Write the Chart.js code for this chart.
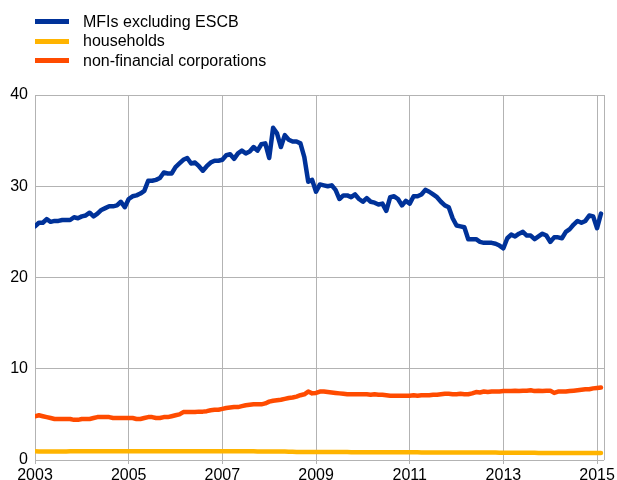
<!DOCTYPE html>
<html>
<head>
<meta charset="utf-8">
<title>Debt securities holdings</title>
<script src="https://cdn.jsdelivr.net/npm/chart.js@4"></script>
<style>
  body { margin: 0; background: #fff; font-family: "Liberation Sans", Arial, sans-serif; }
  #wrap { position: relative; width: 617px; height: 480px; }
  #chart { position: absolute; left: 0; top: 0; }
  #legend { position: absolute; left: 35px; top: 12px; font-size: 16px; color: #000; }
  .item { height: 19.5px; display: flex; align-items: center; white-space: nowrap; }
  .swatch { width: 34px; height: 5px; margin-right: 14px; }
</style>
</head>
<body>
<div id="wrap">
  <canvas id="chart" width="617" height="480"></canvas>
  <div id="legend"></div>
</div>
<script>
  // monthly, Jan 2003 - Feb 2015
  const startYear = 2003;
  const seriesNames = ['MFIs excluding ESCB', 'households', 'non-financial corporations'];
  const seriesColors = ['#003299', '#ffb400', '#ff4b00'];
  const yearLabels = ['2003', '2005', '2007', '2009', '2011', '2013', '2015'];

  const mfi = [
    25.6, 26.0, 26.0, 26.4, 26.1, 26.2, 26.2, 26.3, 26.3, 26.3, 26.6, 26.5,
    26.7, 26.8, 27.1, 26.7, 27.0, 27.4, 27.6, 27.8, 27.8, 27.9, 28.3, 27.7,
    28.6, 28.9, 29.0, 29.2, 29.5, 30.6, 30.6, 30.7, 30.9, 31.5, 31.4, 31.4,
    32.1, 32.5, 32.9, 33.1, 32.5, 32.6, 32.2, 31.7, 32.2, 32.6, 32.8, 32.8,
    32.9, 33.4, 33.5, 33.0, 33.6, 33.9, 33.6, 33.8, 34.3, 33.9, 34.6, 34.7,
    33.1, 36.4, 35.8, 34.3, 35.6, 35.1, 34.9, 34.9, 34.7, 33.2, 30.5, 30.7,
    29.4, 30.2, 30.1, 30.0, 30.1, 29.6, 28.6, 29.0, 29.0, 28.8, 29.1, 28.6,
    28.3, 28.7, 28.3, 28.2, 28.0, 28.1, 27.3, 28.8, 28.9, 28.6, 27.9, 28.4,
    28.1, 28.9, 28.9, 29.1, 29.6, 29.4, 29.1, 28.8, 28.3, 27.9, 27.7, 26.5,
    25.7, 25.6, 25.5, 24.2, 24.2, 24.2, 23.9, 23.8, 23.8, 23.8, 23.7, 23.5,
    23.2, 24.3, 24.7, 24.5, 24.8, 25.0, 24.6, 24.6, 24.2, 24.5, 24.8, 24.6,
    23.9, 24.4, 24.4, 24.3, 25.0, 25.3, 25.8, 26.2, 26.0, 26.2, 26.8, 26.7,
    25.4, 27.0
  ];

  const households = [
    0.95, 0.94, 0.94, 0.93, 0.93, 0.93, 0.94, 0.94, 0.94, 0.95, 0.95, 0.95,
    0.95, 0.95, 0.96, 0.96, 0.96, 0.96, 0.96, 0.96, 0.96, 0.96, 0.96, 0.96,
    0.96, 0.96, 0.96, 0.96, 0.96, 0.96, 0.96, 0.96, 0.96, 0.96, 0.96, 0.96,
    0.96, 0.96, 0.96, 0.96, 0.96, 0.96, 0.96, 0.96, 0.96, 0.96, 0.96, 0.96,
    0.96, 0.96, 0.95, 0.95, 0.95, 0.95, 0.95, 0.95, 0.95, 0.94, 0.94, 0.94,
    0.94, 0.94, 0.93, 0.93, 0.92, 0.91, 0.90, 0.89, 0.88, 0.88, 0.88, 0.88,
    0.88, 0.88, 0.88, 0.87, 0.87, 0.87, 0.87, 0.87, 0.87, 0.86, 0.86, 0.86,
    0.86, 0.86, 0.86, 0.86, 0.85, 0.85, 0.85, 0.85, 0.85, 0.84, 0.84, 0.84,
    0.84, 0.84, 0.84, 0.83, 0.83, 0.83, 0.83, 0.83, 0.83, 0.83, 0.83, 0.83,
    0.82, 0.82, 0.82, 0.82, 0.82, 0.82, 0.81, 0.81, 0.81, 0.81, 0.81, 0.80,
    0.80, 0.80, 0.80, 0.80, 0.79, 0.79, 0.79, 0.79, 0.79, 0.78, 0.78, 0.78,
    0.78, 0.78, 0.77, 0.77, 0.77, 0.77, 0.77, 0.76, 0.76, 0.76, 0.76, 0.76,
    0.76, 0.76
  ];

  const nfc = [
    4.8, 4.9, 4.8, 4.7, 4.6, 4.5, 4.5, 4.5, 4.5, 4.5, 4.4, 4.4,
    4.5, 4.5, 4.5, 4.6, 4.7, 4.7, 4.7, 4.7, 4.6, 4.6, 4.6, 4.6,
    4.6, 4.6, 4.5, 4.5, 4.6, 4.7, 4.7, 4.6, 4.6, 4.7, 4.7, 4.8,
    4.9, 5.0, 5.25, 5.25, 5.25, 5.25, 5.3, 5.3, 5.35, 5.45, 5.5, 5.5,
    5.6, 5.7, 5.75, 5.8, 5.8, 5.9, 6.0, 6.05, 6.1, 6.1, 6.1, 6.2,
    6.4, 6.5, 6.55, 6.6, 6.7, 6.8, 6.85, 6.95, 7.1, 7.2, 7.5, 7.3,
    7.35, 7.5, 7.5, 7.45, 7.4, 7.35, 7.3, 7.25, 7.2, 7.2, 7.2, 7.2,
    7.2, 7.2, 7.15, 7.2, 7.15, 7.15, 7.1, 7.05, 7.05, 7.05, 7.05, 7.05,
    7.05, 7.1, 7.05, 7.1, 7.1, 7.1, 7.15, 7.15, 7.2, 7.25, 7.25, 7.2,
    7.2, 7.25, 7.2, 7.2, 7.3, 7.45, 7.4, 7.5, 7.45, 7.5, 7.5, 7.5,
    7.55, 7.55, 7.55, 7.6, 7.55, 7.6, 7.6, 7.65, 7.55, 7.6, 7.55, 7.6,
    7.6, 7.35, 7.5, 7.5, 7.5, 7.55, 7.6, 7.65, 7.7, 7.75, 7.75, 7.85,
    7.9, 7.95
  ];

  const allSeries = [mfi, households, nfc];

  // html legend
  const legendDiv = document.getElementById('legend');
  seriesNames.forEach((name, i) => {
    const row = document.createElement('div');
    row.className = 'item';
    row.innerHTML = '<span class="swatch" style="background:' + seriesColors[i] + '"></span><span>' + name + '</span>';
    legendDiv.appendChild(row);
  });

  const toPoints = arr => arr.map((v, i) => ({ x: i, y: v }));

  // right border of the plot
  const frame = {
    id: 'frame',
    beforeDatasetsDraw(chart) {
      const a = chart.chartArea, ctx = chart.ctx;
      ctx.save();
      ctx.strokeStyle = '#b3b3b3';
      ctx.lineWidth = 1;
      ctx.beginPath();
      ctx.moveTo(Math.round(a.right) + 0.5, a.top);
      ctx.lineTo(Math.round(a.right) + 0.5, a.bottom);
      ctx.stroke();
      ctx.restore();
    }
  };

  Chart.defaults.font.family = '"Liberation Sans", Arial, sans-serif';
  Chart.defaults.font.size = 16;
  Chart.defaults.color = '#000';

  new Chart(document.getElementById('chart'), {
    type: 'line',
    data: {
      datasets: allSeries.map((arr, i) => ({
        label: seriesNames[i],
        data: toPoints(arr),
        borderColor: seriesColors[i],
        backgroundColor: seriesColors[i],
        borderWidth: 4.5,
        borderJoinStyle: 'round',
        borderCapStyle: 'round',
        pointRadius: 0,
        tension: 0,
        order: i === 0 ? 0 : 1
      }))
    },
    options: {
      responsive: false,
      animation: false,
      layout: { padding: { top: 95, right: 11, left: 0, bottom: 0 } },
      plugins: { legend: { display: false }, tooltip: { enabled: false } },
      scales: {
        x: {
          type: 'linear',
          min: 0,
          max: 145.8,
          afterBuildTicks: s => { s.ticks = yearLabels.map((_, k) => ({ value: k * 24 })); },
          afterFit: s => { s.height = 20; },
          grid: { color: '#b3b3b3', tickLength: 4 },
          border: { display: false },
          ticks: {
            padding: 2,
            maxRotation: 0,
            autoSkip: false,
            callback: v => yearLabels[Math.round(v / 24)]
          }
        },
        y: {
          min: 0,
          max: 40,
          afterFit: s => { s.width = 35; },
          grid: { color: '#b3b3b3', drawTicks: false },
          border: { display: false },
          ticks: { stepSize: 10, padding: 7 }
        }
      }
    },
    plugins: [frame]
  });
</script>
</body>
</html>
